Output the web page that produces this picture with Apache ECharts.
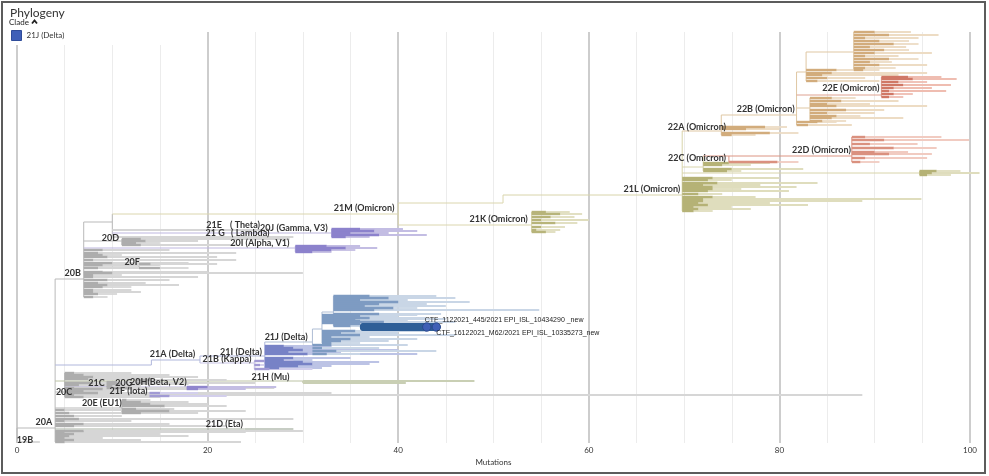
<!DOCTYPE html>
<html><head><meta charset="utf-8">
<script src="https://cdn.jsdelivr.net/npm/echarts@6/dist/echarts.min.js"></script>
<style>html,body{margin:0;padding:0;background:#fff}#c{width:989px;height:476px}</style>
</head><body><div id="c"></div><script>
// ---------------- DATA ----------------
const xTicks = [0, 20, 40, 60, 80, 100];
// clade nodes: divergence (mutations) and vertical tip-rank
const cladeNames   = ['root','n20A','n21D','n20E','n20C','n21C','n20G','n20H','n21F','n21H','n21A','n21Ab','n21I','n21B','n21J','n21Ja','n21Jb','n20B','n20Bu','n20D','n20I','n20J','n20F','n21M','n21L0','n21K','n21L','n21Lfar','n22Cpre','n22C','n22D','n22A','n22B','n22Bup','n22Btop','n22Blow','n22E'];
const cladeParents = ['','root','n20A','n20A','n20A','n20C','n20C','n20C','n20C','n20A','n20A','n21A','n21Ab','n21Ab','n21I','n21J','n21Ja','n20A','n20B','n20B','n20B','n20Bu','n20B','n20Bu','n21M','n21M','n21L0','n21L','n21L','n22Cpre','n22C','n21L','n22A','n22B','n22Bup','n22B','n22B'];
const cladeDivs    = [0,4.0,23.9,11.0,5.0,9.4,12.5,17.8,13.9,30.0,14.1,19.2,26.0,24.9,31.0,32.0,33.2,7.0,10.0,11.0,29.2,33.0,12.8,40.0,51.0,54.0,69.8,94.7,72.0,74.7,87.6,73.9,81.8,82.8,87.8,83.2,90.7];
const cladeRanks   = [403,396,397,376,360,354,350,355,362,349,333,328,324,331,310,297,280,247,190,209,216,201,235,182,171,193,163,141,135,124,124,99,83,40,20,76,63];
const cladeLineage = ['basal','basal','eta','basal','basal','basal','basal','beta','iota','mu','delta','delta','delta','kappa','delta21J','delta21J','delta21J','basal','basal','basal','alpha','gamma','basal','ba1','ba1','ba1','ba2','ba2','ba2','ba275','ba275','ba2a','ba2a','ba2a','ba2a','ba2a','ba5'];

// tips per clade: [internal divergence, tip divergence, rank]
const tipsRoot  = [[0,2.4,410]];
const tips20A   = [[5,14,378],[5.5,19,381],[6,11,384],[6.5,29,387],[5,12,389],[7,16,392],[6,22,394],[7,30,399],[5,24,400],[6,15,402],[5.5,18,404],[5,9,406],[6,13,408],[5,23.5,410]];
const tips21D   = [[23.9,29,397]];
const tips20E   = [[11.5,14,368],[13,18,370],[14,20,372],[15.5,22,374],[12.5,16.5,377],[16,24,379],[13,19,381]];
const tips20C   = [[6,12,341],[7,16,343],[8,19,345],[7.5,14,347],[8,23,351],[6.5,13,353],[6,27,356],[9,21,357],[7,11,359],[8.5,33,361],[6,88.7,363],[7,15,365]];
const tips21C   = [[10.5,15,350],[11,18,352],[10,13,354],[12,20,356]];
const tips20G   = [[14,22,348],[13.5,25,351]];
const tips20H   = [[20,27.2,355],[19,24,357]];
const tips21F   = [[15,19,361],[16,22,364]];
const tips21H   = [[30,48,349],[30,40.8,351]];
const tips21I   = [[28,33,314],[29,36,316],[30,40,318],[28.5,34,320],[30.5,42,322],[29,35,326],[28,31,328],[30,38,330],[31,37,332],[29.5,33,334],[27.5,32,336]];
const tips21B   = [[26,29,329],[25.5,27.5,333],[26.5,31,337]];
const tips21J   = [[33,41,313],[32,38,316],[33.5,44,319],[32.5,36,322]];
const tips21Ja  = [[34,42,283],[35,39,285],[33.5,45,287],[36,41,289],[34.5,38,291],[35.5,43,299],[34,40,301],[36,46,303],[33,37,305],[35,42,307],[34,39,309],[33,36,311]];
const tips21Jb  = [[37,44,264],[39,46,266],[36,41,268],[40,47.5,270],[38,43,272],[36.5,45,274],[39.5,42,276],[37.5,54.8,278],[38,44.5,282],[36,40,284],[37,43,286],[35.5,38.5,288],[38.5,46,290],[36,42,292],[35,39,294]];
const tips20B   = [[9,16,218],[8.5,23,221],[9,11,223],[9.5,21,225],[8,23,228],[10,18,231],[9,15,233],[8.5,14,236],[9,20,240],[10,30,241],[8,11,243],[8,19,245],[9.5,16,248],[8.5,13.5,251],[9.5,17,253],[9,12,255],[8,12,258],[8,13,260],[8.5,10.5,262],[8,9.5,265]];
const tips20Bu  = [[10,26,198],[10,29,205]];
const tips20D   = [[13,28.6,207],[13.5,19,209],[12.5,15,211],[13,23,213]];
const tips20I   = [[32.5,36,214],[34.5,37.8,216],[33,35.5,218],[31,33,220]];
const tips20J   = [[36,40.5,197],[37.5,42,199],[35,39,201],[38,43,203],[34.5,37,205]];
const tips20F   = [[14,21,232],[15,18,236]];
const tips21K   = [[55.5,58,180],[57,59.3,182],[56,58.5,185],[55,60,188],[56.5,58.8,191],[55,57.5,195],[54.5,57,198],[55.5,56.5,200]];
const tips21L   = [[73,80,146],[72.5,75,148],[73.5,84,151],[72,78,153],[73,81.8,155],[73,76,157],[72.5,81,159],[71.5,74,162],[73,77.5,165],[72,94.9,167],[72,88.7,169],[71.5,79,171],[72.5,83,173],[71,75,175],[71.5,77,177],[71,73,179]];
const tips21Lfar= [[96.5,99,139],[96,101,141],[95.5,98,143]];
const tips22Cpre= [[74.7,79,131],[74,77,133],[75,82.5,137],[74.5,76,139]];
const tips22C   = [[79.8,82,130]];
const tips22D   = [[89,97,105],[91,99.9,108],[89.5,94.5,112],[92,96.5,116],[90,93.5,120],[91.5,96,122],[89,95.5,126],[88.5,90.5,130]];
const tips22A   = [[78.5,80.8,95],[76.5,80,97],[79,82,101],[75,77.5,103]];
const tips22B   = [[84,86,90],[83,87.6,93]];
const tips22Bup = [[86,88,38],[85.5,95.5,41],[84.5,92.5,43],[85,89,46],[84,90.5,49]];
const tips22Btop= [[90,93.8,0],[91.5,96.7,3],[89,94.6,6],[90.5,93.6,9],[92,94.6,12],[89.5,93.3,15],[91,93.6,18],[90,96,21],[89,92.5,24],[91.5,94.6,27],[89.5,91.8,30],[90.5,95.5,33],[89,92.2,36],[88.8,90.5,38]];
const tips22Blow= [[85.5,88,66],[86.5,92.5,69],[85,89.5,72],[86,95.5,74],[87,91,78],[85,90,81],[86,88.5,84],[85.5,93,86],[84.5,87,89]];
const tips22E   = [[93.5,97,45],[94,98.6,47],[92.5,95.5,50],[93,98,53],[92,96,56],[91.5,97.5,59],[92,94,62],[91.5,93,65]];

// highlighted samples
const hlNames = ['CTF_1122021_445/2021 EPI_ISL_10434290 _new', 'CTF_16122021_M62/2021 EPI_ISL_10335273_new'];
const hlStart = [36.4, 36.4];
const hlDiv   = [43.0, 44.0];
const hlRank  = [295, 295];

// clade labels
const labelTexts = ['22E (Omicron)','22B (Omicron)','22A (Omicron)','22D (Omicron)','22C (Omicron)','21L (Omicron)','21M (Omicron)','21K (Omicron)','21E','( Theta)','21 G','( Lambda)','20J (Gamma, V3)','20D','20I (Alpha, V1)','20F','20B','21J (Delta)','21A (Delta)','21I (Delta)','21B (Kappa)','21H (Mu)','21C','20G','20H(Beta, V2)','21F (Iota)','20C','20E (EU1)','20A','21D (Eta)','19B'];
const labelDivs  = [90.5,81.6,74.4,87.5,74.4,69.6,39.6,53.6,21.5,25.5,21.8,26.5,32.6,10.7,28.6,12.9,6.7,30.5,18.7,25.7,24.6,28.6,9.2,12.1,17.8,13.7,5.8,11,3.7,23.7,1.7];
const labelRanks = [56,77,95,118,126,157,176,187,193,193,201,201,196,206,211,230,241,305,322,320,327,345,351,351,350,359,360,371,390,392,408];

// ---------------- STYLE ----------------
const PAL = { // [stem, internal, terminal]
  basal:   ['#b9b9b9','#adadad','#d6d6d6'],
  eta:     ['#a8b0a3','#9aa496','#c7cdc4'],
  alpha:   ['#bdb6df','#8c82cc','#c3bde3'],
  gamma:   ['#bdb6df','#8c82cc','#c3bde3'],
  beta:    ['#bdb6df','#8f85cd','#c3bde3'],
  iota:    ['#c9c5e7','#a19ad4','#d3cfec'],
  kappa:   ['#c9c5e7','#a19ad4','#d3cfec'],
  mu:      ['#bcc3a4','#a9b08a','#c9cfb4'],
  delta:   ['#b0b7dc','#7782c6','#bcc3e5'],
  delta21J:['#aebdd4','#7e9bc2','#c9d6e6'],
  ba1:     ['#dbd6ae','#b7b47a','#dfddbd'],
  ba2:     ['#d8d4aa','#b5b276','#dfddbd'],
  ba275:   ['#dc9482','#da917f','#f1cbc1'],
  ba2a:    ['#dfc7a3','#d2ac7c','#eddcc4'],
  ba5:     ['#dea291','#d07866','#efbdb1']
};

const tipsByClade = {root:tipsRoot,n20A:tips20A,n21D:tips21D,n20E:tips20E,n20C:tips20C,n21C:tips21C,n20G:tips20G,n20H:tips20H,n21F:tips21F,n21H:tips21H,n21I:tips21I,n21B:tips21B,n21J:tips21J,n21Ja:tips21Ja,n21Jb:tips21Jb,n20B:tips20B,n20Bu:tips20Bu,n20D:tips20D,n20I:tips20I,n20J:tips20J,n20F:tips20F,n21K:tips21K,n21L:tips21L,n21Lfar:tips21Lfar,n22Cpre:tips22Cpre,n22C:tips22C,n22D:tips22D,n22A:tips22A,n22B:tips22B,n22Bup:tips22Bup,n22Btop:tips22Btop,n22Blow:tips22Blow,n22E:tips22E};

// ---------------- BUILD SEGMENTS ----------------
const styles = [];
const styleIdx = {};
function st(color, width, cap) {
  const k = color + '|' + width + '|' + (cap || '');
  if (!(k in styleIdx)) { styleIdx[k] = styles.length; styles.push({c: color, w: width, cap: cap || 'butt'}); }
  return styleIdx[k];
}
const idx = {};
cladeNames.forEach((n, i) => idx[n] = i);
const segStem = [], segPale = [], segDark = [];
cladeNames.forEach((n, i) => {
  const pal = PAL[cladeLineage[i]];
  const div = cladeDivs[i], rank = cladeRanks[i];
  const tips = tipsByClade[n] || [];
  if (cladeParents[i]) {
    const p = idx[cladeParents[i]];
    segStem.push([cladeDivs[p], rank, div, rank, st(pal[0], 1)]);
  }
  const ranks = [rank].concat(tips.map(t => t[2]));
  cladeParents.forEach((pn, j) => { if (pn === n) ranks.push(cladeRanks[j]); });
  const lo = Math.min.apply(null, ranks), hi = Math.max.apply(null, ranks);
  if (hi > lo) segStem.push([div, lo, div, hi, st(pal[0], 1)]);
  tips.forEach(t => {
    if (t[0] > div) segDark.push([div, t[2], t[0], t[2], st(pal[1], 2.4)]);
    if (t[1] > t[0]) segPale.push([t[0], t[2], t[1], t[2], st(pal[2], 1.8)]);
  });
});
const segHl = hlNames.map((n, i) => [hlStart[i], hlRank[i], hlDiv[i], hlRank[i], st('#2e5e97', 8, 'round')]);
const allSegs = segStem.concat(segPale, segDark);

function lineItem(params, api) {
  const a = api.coord([api.value(0), api.value(1)]);
  const b = api.coord([api.value(2), api.value(3)]);
  const s = styles[api.value(4)];
  return {type: 'line', silent: true,
    shape: {x1: a[0], y1: a[1], x2: b[0], y2: b[1]},
    style: {stroke: s.c, lineWidth: s.w, lineCap: s.cap}};
}

const chart = echarts.init(document.getElementById('c'), null, {renderer: 'canvas'});
chart.setOption({
  animation: false,
  backgroundColor: '#ffffff',
  title: {text: 'Phylogeny', left: 5, top: 2, textStyle: {fontFamily: 'Lato', fontSize: 12, fontWeight: 'normal', color: '#333'}},
  legend: {left: 11, top: 30, padding: 0, itemWidth: 10, itemHeight: 10, itemGap: 5,
    selectedMode: false,
    data: [{name: '21J (Delta)', icon: 'rect', itemStyle: {color: '#3f5fb8', borderColor: '#2f4c9a', borderWidth: 1}}],
    textStyle: {fontFamily: 'Lato', fontSize: 8, color: '#333'}},
  grid: {left: 17, top: 32, width: 953, height: 411, containLabel: false},
  xAxis: [
    {type: 'value', min: 0, max: 100, interval: 5, position: 'top', axisLine: {show: false}, axisTick: {show: false}, axisLabel: {show: false},
     splitLine: {show: true, lineStyle: {color: ['rgba(0,0,0,0)', '#ececec', '#ececec', '#ececec'], width: 1}}},
    {type: 'value', min: 0, max: 100, interval: 20, position: 'bottom', axisLine: {show: false}, axisTick: {show: false},
     axisLabel: {show: true, fontFamily: 'Lato', fontSize: 8, color: '#333', margin: 3,
       formatter: v => xTicks.indexOf(v) >= 0 ? String(v) : ''},
     splitLine: {show: true, lineStyle: {color: '#cdcdcd', width: 2}},
     name: 'Mutations', nameLocation: 'middle', nameGap: 13,
     nameTextStyle: {fontFamily: 'Lato', fontSize: 8, color: '#333'}}
  ],
  yAxis: {type: 'value', min: 0, max: 411, inverse: true, show: false},
  graphic: [
    {type: 'rect', z: 1, silent: true, shape: {x: 4, y: 26, width: 178, height: 19}, style: {fill: '#fff'}},
    {type: 'text', z: 5, x: 9, y: 18, style: {text: 'Clade', font: '8px Lato', fill: '#222'}},
    {type: 'polyline', z: 5, shape: {points: [[32, 23.5], [34.5, 20.5], [37, 23.5]]}, style: {stroke: '#222', lineWidth: 1.8, fill: 'none'}},
    {type: 'rect', z: 10, silent: true, shape: {x: 2, y: 2, width: 983, height: 471}, style: {fill: 'none', stroke: '#5c5c5c', lineWidth: 2}}
  ],
  series: [
    {type: 'custom', name: 'branches', xAxisIndex: 1, clip: false, silent: true,
     dimensions: ['x0','y0','x1','y1','s'], encode: {x: [0, 2], y: [1, 3]},
     data: allSegs, renderItem: lineItem, z: 2},
    {type: 'custom', name: '21J (Delta)', xAxisIndex: 1, clip: false, silent: true,
     itemStyle: {color: '#3f5fb8'},
     dimensions: ['x0','y0','x1','y1','s'], encode: {x: [0, 2], y: [1, 3]},
     data: segHl, renderItem: lineItem, z: 3},
    {type: 'custom', name: 'samples', xAxisIndex: 1, clip: false, silent: true,
     data: hlNames.map((n, i) => [hlDiv[i], hlRank[i], i]),
     encode: {x: 0, y: 1},
     renderItem: (params, api) => {
       const i = api.value(2);
       const p = api.coord([api.value(0), api.value(1)]);
       return {type: 'group', children: [
         {type: 'circle', shape: {cx: p[0], cy: p[1], r: 4.2}, style: {fill: '#3f5fb5', stroke: '#2a4a8e', lineWidth: 1}},
         {type: 'text', x: p[0] + (i === 0 ? -2 : 0), y: p[1] + (i === 0 ? -7 : 6),
          style: {text: hlNames[i], font: '7px Arial', fill: '#222', align: 'left', verticalAlign: 'middle', textAlign: 'left', textVerticalAlign: 'middle'}}
       ]};
     }, z: 4},
    {type: 'custom', name: 'labels', xAxisIndex: 1, clip: false, silent: true,
     data: labelTexts.map((t, i) => [labelDivs[i], labelRanks[i], i]),
     encode: {x: 0, y: 1},
     renderItem: (params, api) => {
       const p = api.coord([api.value(0), api.value(1)]);
       return {type: 'text', x: p[0], y: p[1],
         style: {text: labelTexts[api.value(2)], font: 'bold 9px Lato', fill: '#333',
           align: 'right', verticalAlign: 'middle', textAlign: 'right', textVerticalAlign: 'middle'}};
     }, z: 5}
  ]
});
</script></body></html>
